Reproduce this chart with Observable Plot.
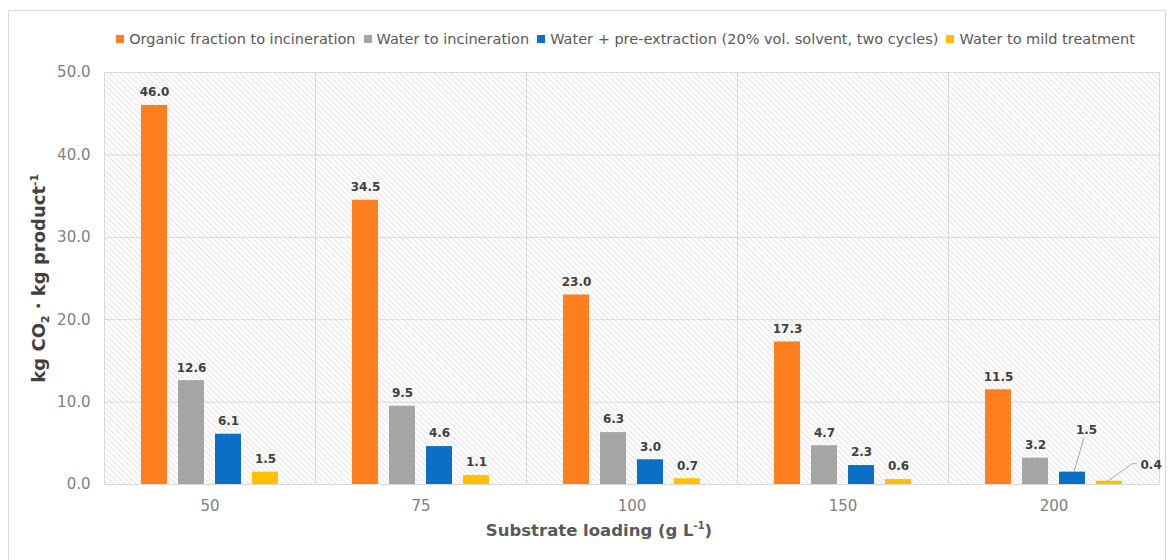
<!DOCTYPE html>
<html>
<head>
<meta charset="utf-8">
<script src="https://cdn.jsdelivr.net/npm/d3@7"></script>
<script src="https://cdn.jsdelivr.net/npm/@observablehq/plot@0.6"></script>
<style>
  html, body { margin: 0; padding: 0; background: #fff; }
  #wrap { position: relative; width: 1171px; height: 560px; overflow: hidden; font-family: "DejaVu Sans", sans-serif; }
  #border { position: absolute; left: 8px; top: 10px; width: 1158px; height: 560px; border: 1px solid #d9d9d9; box-sizing: border-box; }
  #legend { position: absolute; left: 0; top: 30px; width: 1171px; height: 18px; display: flex; justify-content: center; align-items: center; font-size: 14.5px; color: #595959; padding-left: 80px; box-sizing: border-box; }
  #legend .item { display: flex; align-items: center; margin: 0 4px; white-space: nowrap; }
  #legend .sw { width: 8px; height: 8px; margin-right: 5px; }
  #chart { position: absolute; left: 0; top: 60px; }
  #ytitle { position: absolute; left: -160px; top: 266px; width: 400px; text-align: center; transform: rotate(-90deg); font-weight: bold; font-size: 18px; color: #404040; }
  #xtitle { position: absolute; left: 399px; top: 520px; width: 400px; text-align: center; font-weight: bold; font-size: 16.5px; color: #595959; }
  sub, sup { font-size: 60%; }
</style>
</head>
<body>
<div id="wrap">
  <div id="border"></div>
  <div id="legend"></div>
  <div id="chart"></div>
  <div id="ytitle">kg CO<sub>2</sub> · kg product<sup>-1</sup></div>
  <div id="xtitle">Substrate loading (g L<sup>-1</sup>)</div>
</div>
<script>
// ---- data ----
const categories = ["50", "75", "100", "150", "200"];
const seriesNames = [
  "Organic fraction to incineration",
  "Water to incineration",
  "Water + pre-extraction (20% vol. solvent, two cycles)",
  "Water to mild treatment"
];
const organicIncineration = [46.0, 34.5, 23.0, 17.3, 11.5];
const waterIncineration   = [12.6, 9.5, 6.3, 4.7, 3.2];
const waterPreExtraction  = [6.1, 4.6, 3.0, 2.3, 1.5];
const waterMildTreatment  = [1.5, 1.1, 0.7, 0.6, 0.4];
const yTicks = [0, 10, 20, 30, 40, 50];

// ---- build table ----
const seriesValues = [organicIncineration, waterIncineration, waterPreExtraction, waterMildTreatment];
const rows = categories.flatMap((c, i) =>
  seriesNames.map((s, j) => ({cat: c, series: s, value: seriesValues[j][i]}))
);

const palette = ["#FF7F1F", "#A5A5A5", "#0B6FC6", "#FFC000"];
const font = "DejaVu Sans, sans-serif";

// legend (HTML)
const legend = document.getElementById("legend");
seriesNames.forEach((s, j) => {
  const it = document.createElement("div");
  it.className = "item";
  const sw = document.createElement("div");
  sw.className = "sw";
  sw.style.background = palette[j];
  const tx = document.createElement("span");
  tx.textContent = s;
  it.appendChild(sw); it.appendChild(tx);
  legend.appendChild(it);
});

// callout labels (last category, two small series)
const calloutKey = d => d.cat === "200" && (d.series === seriesNames[2] || d.series === seriesNames[3]);
const plainRows = rows.filter(d => !calloutKey(d));
const blueCallout = rows.filter(d => d.cat === "200" && d.series === seriesNames[2]);
const yellowCallout = rows.filter(d => d.cat === "200" && d.series === seriesNames[3]);

function leader(data, pts) {
  return Plot.link(data, {
    fx: "cat", x1: "series", x2: "series", y1: "value", y2: "value",
    stroke: "#a6a6a6",
    render(index, scales, values, dimensions, context) {
      const g = d3.create("svg:g");
      for (const i of index) {
        const d = data[i];
        const cx = scales.x(d.series) + scales.x.bandwidth() / 2;
        const cy = scales.y(d.value);
        g.append("path")
          .attr("d", "M" + pts.map(([dx, dy]) => (cx + dx) + "," + (cy + dy)).join("L"))
          .attr("fill", "none")
          .attr("stroke", "#a6a6a6")
          .attr("stroke-width", 1);
      }
      return g.node();
    }
  });
}

const labelStyle = {fontSize: 12, fontWeight: "bold", fill: "#404040", fontFamily: font};

const chart = Plot.plot({
  width: 1171,
  height: 500,
  marginLeft: 104,
  marginRight: 12,
  marginTop: 12,
  marginBottom: 76,
  style: {fontFamily: font, background: "transparent"},
  fx: {domain: categories, padding: 0, label: null},
  x: {domain: seriesNames, paddingInner: 0.3, paddingOuter: 0.95, axis: null},
  y: {domain: [0, 50]},
  color: {domain: seriesNames, range: palette},
  marks: [
    Plot.frame({fill: "url(#hatch)", stroke: null}),
    Plot.ruleY([10, 20, 30, 40], {stroke: "#d9d9d9", strokeWidth: 1}),
    Plot.frame({stroke: "#d9d9d9", strokeWidth: 1}),
    Plot.axisY({ticks: yTicks, tickFormat: d => d.toFixed(1), tickSize: 0, tickPadding: 14, fontSize: 15, color: "#808080", label: null}),
    Plot.axisFx({anchor: "bottom", tickSize: 0, tickPadding: 16, fontSize: 15, color: "#808080", label: null}),
    Plot.barY(rows, {fx: "cat", x: "series", y: "value", fill: "series"}),
    Plot.text(plainRows, {fx: "cat", x: "series", y: "value", text: d => d.value.toFixed(1), dy: -13, ...labelStyle}),
    leader(blueCallout, [[2, 0], [12, -34]]),
    leader(yellowCallout, [[-2, 1], [23, -17], [28, -17]]),
    Plot.text(blueCallout, {fx: "cat", x: "series", y: "value", text: d => d.value.toFixed(1), dx: 14, dy: -42, ...labelStyle}),
    Plot.text(yellowCallout, {fx: "cat", x: "series", y: "value", text: d => d.value.toFixed(1), dx: 31, dy: -16, textAnchor: "start", ...labelStyle})
  ]
});

// hatch pattern definition
const defs = d3.select(chart).insert("defs", ":first-child");
const pat = defs.append("pattern")
  .attr("id", "hatch")
  .attr("patternUnits", "userSpaceOnUse")
  .attr("width", 4).attr("height", 4)
  .attr("patternTransform", "rotate(-45)");
pat.append("rect").attr("width", 4).attr("height", 4).attr("fill", "#ffffff");
pat.append("line").attr("x1", 0).attr("y1", 0).attr("x2", 0).attr("y2", 4)
  .attr("stroke", "#e3e3e3").attr("stroke-width", 2);

document.getElementById("chart").appendChild(chart);
</script>
</body>
</html>
